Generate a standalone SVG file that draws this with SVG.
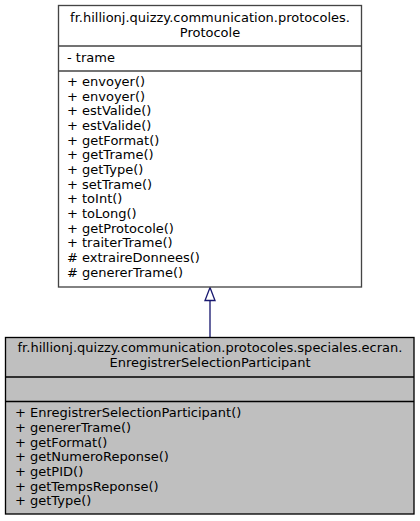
<svg xmlns="http://www.w3.org/2000/svg" width="420" height="521" viewBox="0 0 420 521">
<style>
  text { font-family: "DejaVu Sans", sans-serif; font-size: 13px; fill: #000; }
  .c { text-anchor: middle; }
  .box { stroke-width: 1.33; }
  .sep { stroke-width: 1.33; }
</style>
<rect width="420" height="521" fill="#fff"/>
<g id="connectors">
  <line x1="210" y1="300.5" x2="210" y2="337" stroke="#191970" stroke-width="1.33"/>
  <polygon points="210,287.5 215,300.5 205,300.5" fill="#fff" stroke="#191970" stroke-width="1.33"/>
</g>
<g id="Protocole">
  <rect class="box" x="58.5" y="5.5" width="303" height="281.5" fill="#fff" stroke="#444"/>
  <line class="sep" x1="58.5" y1="46" x2="361.5" y2="46" stroke="#444"/>
  <line class="sep" x1="58.5" y1="71" x2="361.5" y2="71" stroke="#444"/>
  <text class="c" x="210" y="22">fr.hillionj.quizzy.communication.protocoles.</text>
  <text class="c" x="210" y="36.7">Protocole</text>
  <text x="67" y="62">- trame</text>
  <text x="67" y="86">+ envoyer()</text>
  <text x="67" y="100.7">+ envoyer()</text>
  <text x="67" y="115.3">+ estValide()</text>
  <text x="67" y="130">+ estValide()</text>
  <text x="67" y="144.7">+ getFormat()</text>
  <text x="67" y="159.3">+ getTrame()</text>
  <text x="67" y="174">+ getType()</text>
  <text x="67" y="188.7">+ setTrame()</text>
  <text x="67" y="203.3">+ toInt()</text>
  <text x="67" y="218">+ toLong()</text>
  <text x="67" y="232.7">+ getProtocole()</text>
  <text x="67" y="247.3">+ traiterTrame()</text>
  <text x="67" y="262"># extraireDonnees()</text>
  <text x="67" y="276.7"># genererTrame()</text>
</g>
<g id="EnregistrerSelectionParticipant">
  <rect class="box" x="5.5" y="337.5" width="408.5" height="176.5" fill="#bfbfbf" stroke="#000"/>
  <line class="sep" x1="5.5" y1="377" x2="414" y2="377" stroke="#000"/>
  <line class="sep" x1="5.5" y1="401.5" x2="414" y2="401.5" stroke="#000"/>
  <text class="c" x="210" y="352">fr.hillionj.quizzy.communication.protocoles.speciales.ecran.</text>
  <text class="c" x="210" y="366.7">EnregistrerSelectionParticipant</text>
  <text x="15" y="417.3">+ EnregistrerSelectionParticipant()</text>
  <text x="15" y="432">+ genererTrame()</text>
  <text x="15" y="446.7">+ getFormat()</text>
  <text x="15" y="461.3">+ getNumeroReponse()</text>
  <text x="15" y="476">+ getPID()</text>
  <text x="15" y="490.7">+ getTempsReponse()</text>
  <text x="15" y="505.3">+ getType()</text>
</g>
</svg>
